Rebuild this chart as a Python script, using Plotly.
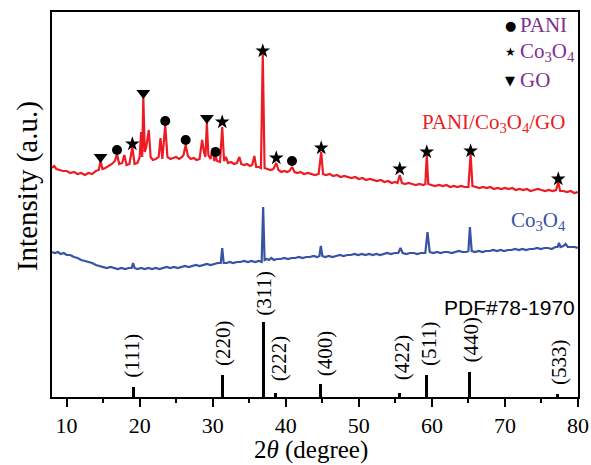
import plotly.graph_objects as go

# ---------------- data ----------------
# PANI/Co3O4/GO (red) pattern: 2theta, intensity (a.u.)
red_x = [8.0, 8.3, 8.6, 9.0, 9.5, 10.0, 10.5, 11.0, 11.5, 12.0, 12.5, 13.0, 13.5, 14.0, 14.4, 14.65, 14.9,
         15.3, 15.7, 16.2, 16.6, 16.9, 17.2, 17.6, 17.9, 18.2, 18.6, 19.0, 19.3, 19.7, 20.0, 20.2, 20.35,
         20.5, 20.7, 20.9, 21.25, 21.5, 21.8, 22.2, 22.6, 22.85, 23.1, 23.5, 23.8, 24.2, 24.6, 25.0, 25.4,
         25.8, 26.0, 26.3, 26.6, 27.0, 27.4, 27.8, 28.2, 28.55, 28.8, 29.0, 29.2, 29.4, 29.7, 30.0, 30.2,
         30.4, 30.6, 31.0, 31.3, 31.55, 31.8, 32.1, 32.5, 32.9, 33.3, 33.65, 33.9, 34.3, 34.7, 35.1, 35.4,
         35.7, 35.95, 36.3, 36.6, 36.85, 37.1, 37.5, 37.9, 38.3, 38.7, 39.0, 39.4, 39.8, 40.2, 40.5, 40.85,
         41.2, 41.6, 42.0, 42.5, 43.0, 43.5, 44.0, 44.5, 44.85, 45.1, 45.5, 46.0, 46.5, 47.0, 47.5, 48.0,
         48.5, 49.0, 49.5, 50.0, 50.5, 51.0, 51.5, 52.0, 52.5, 53.0, 53.5, 54.0, 54.5, 55.0, 55.3, 55.6,
         55.9, 56.3, 56.8, 57.3, 57.8, 58.3, 58.8, 59.1, 59.3, 59.5, 59.9, 60.4, 61.0, 61.5, 62.0, 62.5,
         63.0, 63.5, 64.0, 64.5, 65.0, 65.3, 65.55, 66.0, 66.5, 67.0, 67.5, 68.0, 68.5, 69.0, 69.5, 70.0,
         70.5, 71.0, 71.5, 72.0, 72.5, 73.0, 73.5, 74.0, 74.5, 75.0, 75.5, 76.0, 76.5, 77.0, 77.3, 77.55,
         78.0, 78.5, 79.0, 79.5, 80.0]
red_y = [229, 231, 228, 227, 226, 226, 224, 225, 223, 224, 222, 224, 223, 226, 227, 236, 228,
         229, 231, 233, 236, 243, 233, 234, 242, 232, 233, 250, 233, 234, 240, 265, 240,
         300, 245, 250, 267, 240, 237, 238, 240, 259, 238, 272, 240, 238, 239, 240, 238,
         240, 242, 252, 241, 238, 239, 237, 238, 257, 245, 240, 274, 242, 238, 249, 236,
         240, 236, 235, 270, 236, 240, 234, 235, 233, 234, 240, 233, 232, 233, 231, 232,
         241, 230, 230, 229, 343, 229, 228, 227, 228, 234, 227, 225, 226, 225, 226, 230,
         225, 224, 225, 223, 224, 223, 222, 223, 245, 223, 222, 223, 221, 222, 220, 221,
         220, 219, 220, 218, 219, 217, 218, 217, 216, 217, 215, 216, 214, 215, 214, 222,
         214, 213, 214, 213, 212, 213, 212, 213, 242, 213, 212, 211, 212, 211, 212, 210,
         211, 210, 211, 210, 210, 243, 211, 210, 209, 210, 209, 210, 208, 209, 208, 209,
         208, 209, 207, 208, 207, 208, 206, 207, 208, 207, 206, 207, 206, 207, 215, 206,
         206, 205, 206, 204, 205]

# Co3O4 (blue) pattern
blue_x = [8.0, 8.4, 8.8, 9.2, 9.6, 10.0, 10.5, 11.0, 11.5, 12.0, 12.5, 13.0, 13.5, 14.0, 14.5, 15.0,
          15.5, 16.0, 16.5, 17.0, 17.5, 18.0, 18.5, 18.9, 19.1, 19.3, 19.7, 20.2, 20.7, 21.2, 21.7, 22.2,
          22.7, 23.2, 23.7, 24.2, 24.7, 25.2, 25.7, 26.2, 26.7, 27.2, 27.7, 28.2, 28.7, 29.2, 29.7, 30.2,
          30.7, 31.1, 31.3, 31.5, 31.9, 32.3, 32.8, 33.3, 33.8, 34.3, 34.8, 35.3, 35.8, 36.3, 36.7, 36.9,
          37.1, 37.4, 37.7, 38.0, 38.4, 38.8, 39.3, 39.8, 40.3, 40.8, 41.3, 41.8, 42.3, 42.8, 43.3, 43.8,
          44.3, 44.6, 44.8, 45.0, 45.4, 45.9, 46.4, 46.9, 47.4, 47.9, 48.4, 48.9, 49.4, 49.9, 50.4, 50.9,
          51.4, 51.9, 52.4, 52.9, 53.4, 53.9, 54.4, 54.9, 55.4, 55.7, 56.0, 56.5, 57.0, 57.5, 58.0, 58.5,
          59.1, 59.4, 59.7, 60.2, 60.7, 61.2, 61.7, 62.2, 62.7, 63.2, 63.7, 64.2, 64.7, 65.0, 65.2, 65.45,
          65.9, 66.4, 66.9, 67.4, 67.9, 68.4, 68.9, 69.4, 69.9, 70.4, 70.9, 71.4, 71.9, 72.4, 72.9, 73.4,
          73.9, 74.4, 74.9, 75.4, 75.9, 76.4, 76.9, 77.2, 77.4, 77.6, 78.0, 78.3, 78.6, 79.0, 79.5, 80.0]
blue_y = [145, 144, 145, 143, 144, 142, 142, 140, 139, 137, 136, 135, 134, 132, 131, 130,
          129, 130, 129, 128, 129, 128, 129, 129, 134, 129, 128, 129, 128, 129, 128, 129,
          128, 129, 130, 129, 130, 129, 130, 131, 130, 131, 132, 131, 132, 133, 132, 133,
          134, 134, 149, 134, 134, 135, 134, 135, 135, 136, 135, 136, 135, 136, 135, 190,
          137, 138, 137, 139, 137, 138, 138, 139, 138, 139, 139, 140, 139, 140, 140, 141,
          140, 141, 151, 141, 140, 141, 140, 141, 142, 141, 142, 142, 143, 142, 143, 142,
          143, 142, 143, 142, 143, 144, 143, 144, 144, 149, 144, 143, 144, 144, 143, 144,
          144, 165, 145, 144, 145, 144, 145, 145, 144, 145, 146, 145, 145, 146, 170, 146,
          145, 146, 145, 146, 146, 147, 146, 147, 146, 147, 147, 148, 147, 148, 147, 148,
          148, 149, 148, 149, 149, 148, 150, 150, 154, 150, 151, 153, 150, 150, 150, 149]

# phase markers on the red pattern
pani_x = [16.9, 23.5, 26.3, 30.4, 40.85]
pani_y = [247, 276, 257, 245, 236]
co3o4_x = [19.0, 31.3, 36.85, 38.7, 44.85, 55.6, 59.3, 65.3, 77.3]
co3o4_y = [253, 275, 346, 239, 249, 228, 245, 246, 218]
go_x = [14.65, 20.5, 29.2]
go_y = [240, 304, 279]

# reference pattern PDF#78-1970
ref_x = [19.1, 31.35, 36.9, 38.6, 44.8, 55.6, 59.3, 65.2, 77.2]
ref_h = [10, 22, 75, 4, 13, 4, 22, 25, 3]
ref_labels = ["(111)", "(220)", "(311)", "(222)", "(400)", "(422)", "(511)", "(440)", "(533)"]
ref_label_x = [18.9, 31.4, 36.9, 39.1, 45.4, 55.95, 59.55, 65.3, 77.4]
ref_label_y = [17, 29, 79, 14, 19, 15, 29, 32, 10]

x_ticks = [10, 20, 30, 40, 50, 60, 70, 80]

# ---------------- style ----------------
RED = "#ED1C24"
BLUE = "#3953A4"
PURPLE = "#7F2F8F"
SERIF = "Liberation Serif"

fig = go.Figure()
fig.add_trace(go.Bar(x=ref_x, y=ref_h, width=0.42, marker=dict(color="black", line=dict(width=0)),
                     showlegend=False))
fig.add_trace(go.Scatter(x=blue_x, y=blue_y, mode="lines", line=dict(color=BLUE, width=2.2),
                         showlegend=False))
fig.add_trace(go.Scatter(x=red_x, y=red_y, mode="lines", line=dict(color=RED, width=2.2),
                         showlegend=False))
fig.add_trace(go.Scatter(x=pani_x, y=pani_y, mode="markers",
                         marker=dict(symbol="circle", size=10, color="black"), showlegend=False))
fig.add_trace(go.Scatter(x=co3o4_x, y=co3o4_y, mode="markers",
                         marker=dict(symbol="star", size=11, color="black"), showlegend=False))
fig.add_trace(go.Scatter(x=go_x, y=go_y, mode="markers",
                         marker=dict(symbol="triangle-down", size=12, color="black"), showlegend=False))

ann = []
for lx, ly, lt in zip(ref_label_x, ref_label_y, ref_labels):
    ann.append(dict(x=lx, y=ly, text=lt, textangle=-90, showarrow=False, xanchor="center",
                    yanchor="bottom", font=dict(family=SERIF, size=21, color="black")))

ann.append(dict(x=79.9, y=90, text="PDF#78-1970", showarrow=False, xanchor="right", yanchor="middle",
                font=dict(family="Liberation Sans", size=21, color="black")))
ann.append(dict(x=78.5, y=274, text="PANI/Co<sub>3</sub>O<sub>4</sub>/GO", showarrow=False,
                xanchor="right", yanchor="middle", font=dict(family=SERIF, size=21, color=RED)))
ann.append(dict(x=78.6, y=176, text="Co<sub>3</sub>O<sub>4</sub>", showarrow=False,
                xanchor="right", yanchor="middle", font=dict(family=SERIF, size=21, color=BLUE)))

# legend (custom)
leg_sym = ["●", "★", "▼"]
leg_txt = ["PANI", "Co<sub>3</sub>O<sub>4</sub>", "GO"]
leg_y = [0.966, 0.896, 0.823]
leg_sym_size = [13, 12, 13]
for s, t, yy, ss in zip(leg_sym, leg_txt, leg_y, leg_sym_size):
    ann.append(dict(xref="paper", yref="paper", x=0.871, y=yy, text=s, showarrow=False,
                    xanchor="center", yanchor="middle", font=dict(family="DejaVu Sans", size=ss, color="black")))
    ann.append(dict(xref="paper", yref="paper", x=0.885, y=yy, text=t, showarrow=False,
                    xanchor="left", yanchor="middle", font=dict(family=SERIF, size=21, color=PURPLE)))

# axis titles
ann.append(dict(xref="paper", yref="paper", x=0.492, y=-0.138, text="2<i>θ</i> (degree)", showarrow=False,
                xanchor="center", yanchor="middle", font=dict(family=SERIF, size=25, color="black")))
ann.append(dict(xref="paper", yref="paper", x=-0.0475, y=0.548, text="Intensity (a.u.)", showarrow=False,
                textangle=-90, xanchor="center", yanchor="middle",
                font=dict(family=SERIF, size=29, color="black")))

fig.update_layout(
    width=591, height=465,
    margin=dict(l=52, r=13, t=12, b=68, autoexpand=False),
    paper_bgcolor="white", plot_bgcolor="white",
    annotations=ann,
    bargap=0,
    xaxis=dict(range=[8, 80], tickvals=x_ticks, ticks="outside", ticklen=8, tickwidth=2,
               tickcolor="black", showline=True, linewidth=2, linecolor="black", mirror=True,
               showgrid=False, zeroline=False, automargin=False,
               tickfont=dict(family=SERIF, size=22, color="black"),
               minor=dict(dtick=5, tick0=5, ticks="outside", ticklen=4, tickwidth=2, tickcolor="black",
                          showgrid=False)),
    yaxis=dict(range=[0, 385], showticklabels=False, ticks="", showline=True, linewidth=2,
               linecolor="black", mirror=True, showgrid=False, zeroline=False, automargin=False),
)

fig.write_html("out.html")
